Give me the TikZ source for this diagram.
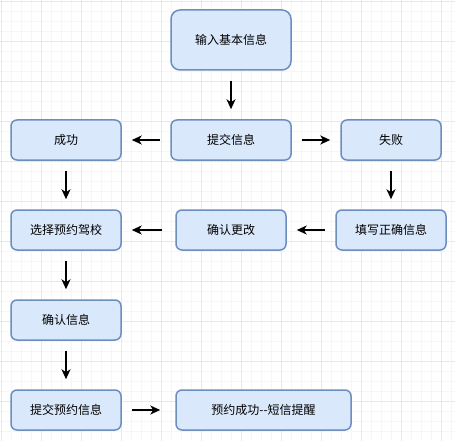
\documentclass[tikz,border=0pt]{standalone}
\usepackage{fontspec}
\setmainfont{Noto Sans CJK SC}
\usetikzlibrary{arrows.meta}
\definecolor{boxfill}{HTML}{DAE8FC}
\definecolor{boxline}{HTML}{6C8EBF}
\definecolor{gridminor}{HTML}{F6F6F6}
\definecolor{gridmajor}{HTML}{E8E8E8}

\begin{document}
\begin{tikzpicture}[x=1pt,y=-1pt,
		box/.style={draw=boxline,fill=boxfill,line width=1.5pt,rounded corners=6pt,minimum width=110pt,minimum height=40pt,inner sep=0pt,font=\fontsize{12pt}{14pt}\selectfont},
		go/.style={-{Stealth[length=10pt,width=9pt,inset=3pt]},line width=2pt,shorten <=10pt,shorten >=10pt}]
				\useasboundingbox (0,0) rectangle (455,441);
				% grid
				\foreach \i in {0,...,45} \draw[gridminor,line width=0.7pt] (1+10*\i,0) -- (1+10*\i,441);
				\foreach \i in {0,...,44} \draw[gridminor,line width=0.7pt] (0,1+10*\i) -- (455,1+10*\i);
				\foreach \i in {0,...,11} \draw[gridmajor,line width=0.7pt] (1+40*\i,0) -- (1+40*\i,441);
				\foreach \i in {0,...,11} \draw[gridmajor,line width=0.7pt] (0,1+40*\i) -- (455,1+40*\i);
				% nodes
				\node[box,minimum width=120pt,minimum height=60pt,rounded corners=9pt] (input) at (231,40) {输入基本信息};
				\node[box,minimum width=120pt] (submit) at (231,140) {提交信息};
				\node[box] (success) at (66,140) {成功};
				\node[box,minimum width=100pt] (fail) at (391,140) {失败};
				\node[box] (choose) at (66,230) {选择预约驾校};
				\node[box] (change) at (231,230) {确认更改};
				\node[box] (refill) at (391,230) {填写正确信息};
				\node[box] (confirm) at (66,320) {确认信息};
				\node[box] (book) at (66,410) {提交预约信息};
				\node[box,minimum width=175pt] (sms) at (263.5,410) {预约成功{-}{-}短信提醒};
				% arrows
				\draw[go] (input) -- (submit);
				\draw[go] (submit) -- (success);
				\draw[go] (submit) -- (fail);
				\draw[go] (success) -- (choose);
				\draw[go] (fail) -- (refill);
				\draw[go] (refill) -- (change);
				\draw[go,shorten <=13pt] (change) -- (choose);
				\draw[go] (choose) -- (confirm);
				\draw[go] (confirm) -- (book);
				\draw[go,shorten >=15pt] (book) -- (sms);
			\end{tikzpicture}
\end{document}
